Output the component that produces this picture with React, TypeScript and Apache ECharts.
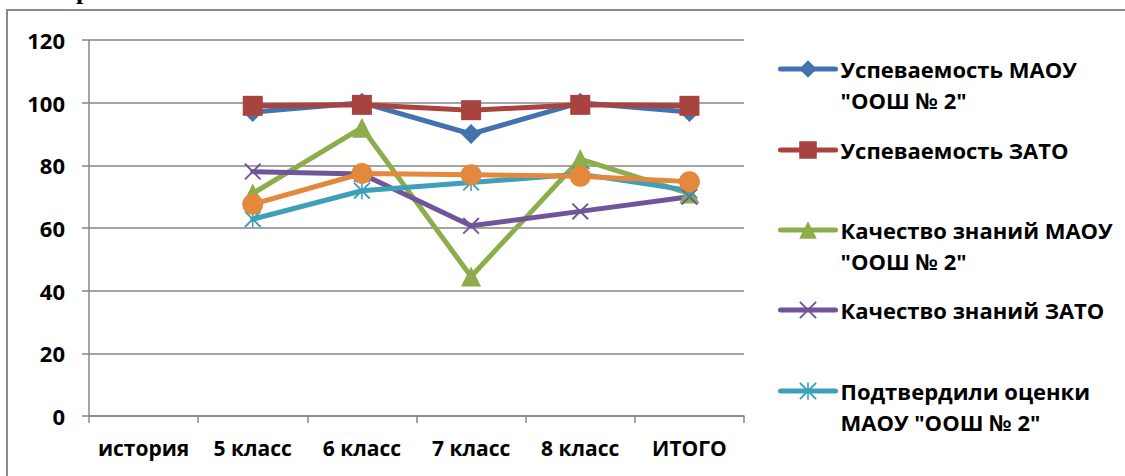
import React, { useEffect, useRef } from "react";
import * as echarts from "echarts";

const categories = ["история", "5 класс", "6 класс", "7 класс", "8 класс", "ИТОГО"];
const yTicks = [0, 20, 40, 60, 80, 100, 120];

const uspMaou = [null, 97, 100, 90, 100, 97];
const uspZato = [null, 99, 99.3, 97.6, 99.3, 99];
const kachMaou = [null, 71, 92, 44.5, 82, 71];
const kachZato = [null, 78, 77.2, 60.7, 65.3, 70];
const podtvMaou = [null, 62.8, 71.9, 74.5, 77.2, 72];
const podtvZato = [null, 67.6, 77.4, 77, 76.5, 74.8];

const names = [
  'Успеваемость МАОУ "ООШ № 2"',
  "Успеваемость ЗАТО",
  'Качество знаний МАОУ "ООШ № 2"',
  "Качество знаний ЗАТО",
  'Подтвердили оценки МАОУ "ООШ № 2"',
  "Подтвердили оценки ЗАТО",
];
const legendLabels = [
  'Успеваемость МАОУ\n"ООШ № 2"',
  "Успеваемость ЗАТО",
  'Качество знаний МАОУ\n"ООШ № 2"',
  "Качество знаний ЗАТО",
  'Подтвердили оценки\nМАОУ "ООШ № 2"',
];
const legendCenters = [69, 150, 230, 310, 391];

const colors = ["#4472AE", "#A9433F", "#8DAD4B", "#71559A", "#3E9FB9", "#E3883C"];

const FONT = "'Open Sans', 'DejaVu Sans', sans-serif";

const xPath = "path://M0,1.6 L1.6,0 L20,18.4 L18.4,20 Z M18.4,0 L20,1.6 L1.6,20 L0,18.4 Z";
const starPath =
  "path://M0,1.6 L1.6,0 L20,18.4 L18.4,20 Z M18.4,0 L20,1.6 L1.6,20 L0,18.4 Z M9.1,0 L10.9,0 L10.9,20 L9.1,20 Z";

export default function App() {
  const ref = useRef<HTMLDivElement>(null);
  useEffect(() => {
    if (!ref.current) return;
    const chart = echarts.init(ref.current, null, { renderer: "svg" });
    const data = [uspMaou, uspZato, kachMaou, kachZato, podtvMaou, podtvZato];
    const symbols = ["diamond", "rect", "triangle", xPath, starPath, "circle"];
    const sizes = [20, 20, 20, 17, 17, 21];
    const series = data.map((d, i) => ({
      name: names[i],
      type: "line",
      data: d,
      symbol: symbols[i],
      symbolSize: sizes[i],
      showAllSymbol: true,
      connectNulls: false,
      lineStyle: { color: colors[i], width: 5, cap: "round", join: "round" },
      itemStyle: { color: colors[i] },
      emphasis: { disabled: true },
    }));
    const legends = legendLabels.map((lab, i) => {
      const twoLine = lab.indexOf("\n") >= 0;
      return {
        data: [names[i]],
        left: 778,
        top: twoLine ? legendCenters[i] - 46.5 : legendCenters[i] - 15.5,
        orient: "vertical",
        padding: 0,
        itemWidth: 55,
        itemHeight: 22,
        selectedMode: false,
        formatter: () => (twoLine ? "\u00a0\n" + lab : lab),
        lineStyle: { width: 5, cap: "round" },
        textStyle: {
          fontFamily: FONT,
          fontWeight: "bold",
          fontSize: 22,
          color: "#000",
          lineHeight: 31,
        },
      };
    });
    chart.setOption({
      animation: false,
      backgroundColor: "#fff",
      grid: { left: 89, right: 381, top: 40, bottom: 60 },
      xAxis: {
        type: "category",
        data: categories,
        boundaryGap: true,
        axisLine: { lineStyle: { color: "#868686", width: 1.5 } },
        axisTick: { show: true, length: 7, lineStyle: { color: "#868686", width: 1.5 } },
        axisLabel: {
          interval: 0,
          margin: 21,
          fontFamily: FONT,
          fontWeight: "bold",
          fontSize: 21,
          color: "#000",
        },
        splitLine: { show: false },
      },
      yAxis: {
        type: "value",
        min: 0,
        max: 120,
        interval: 20,
        axisLine: { show: true, lineStyle: { color: "#868686", width: 1.5 } },
        axisTick: { show: true, length: 7, lineStyle: { color: "#868686", width: 1.5 } },
        axisLabel: {
          margin: 24,
          fontFamily: FONT,
          fontWeight: "bold",
          fontSize: 22,
          color: "#000",
          formatter: (v: number) => (yTicks.indexOf(v) >= 0 ? String(v) : ""),
        },
        splitLine: { show: true, lineStyle: { color: "#868686", width: 1.5 } },
      },
      legend: legends,
      series,
      graphic: [
        {
          type: "rect",
          shape: { x: 7, y: 10, width: 1200, height: 600 },
          style: { fill: "none", stroke: "#8a8a8a", lineWidth: 2 },
          silent: true,
        },
        {
          type: "text",
          x: 76,
          y: -10,
          style: {
            text: "р",
            font: "bold 26px 'Liberation Serif', serif",
            fill: "#000",
            verticalAlign: "middle",
          },
          silent: true,
        },
      ],
    });
    return () => chart.dispose();
  }, []);
  return (
    <div
      ref={ref}
      style={{ position: "absolute", left: 0, top: 0, width: 1125, height: 476 }}
    />
  );
}
